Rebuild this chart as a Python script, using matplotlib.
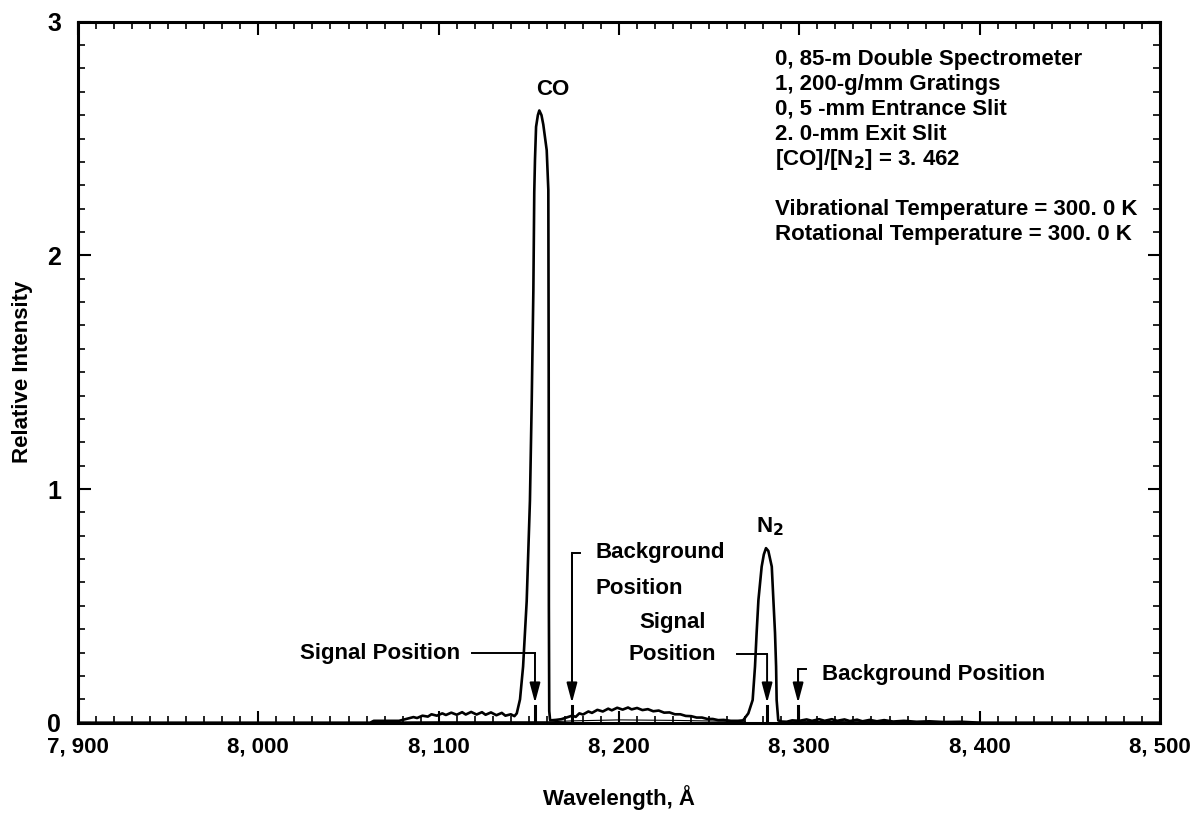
import matplotlib
matplotlib.use("Agg")
import matplotlib.pyplot as plt
from matplotlib.ticker import MultipleLocator, FuncFormatter

plt.rcParams['font.family'] = ['Liberation Sans', 'DejaVu Sans']
plt.rcParams['font.weight'] = 'bold'

# ---- data ----
wavelength = [7900, 8062, 8064, 8078, 8080, 8083, 8086, 8088, 8091, 8094, 8096, 8099,
              8102, 8104, 8107, 8110, 8113, 8115, 8118, 8121, 8124, 8126, 8129, 8132,
              8135, 8137, 8140, 8142,
              8143.3, 8145.1, 8146.8, 8148.8, 8150.6, 8151.6, 8152.5, 8153.0, 8153.4,
              8154.0, 8155.0, 8155.8, 8157.0, 8158.0, 8159.9, 8160.8, 8161.0, 8161.1,
              8161.3, 8161.8,
              8165, 8168, 8170, 8172, 8174, 8176, 8178, 8180, 8183, 8185, 8188, 8191,
              8194, 8196, 8199, 8202, 8205, 8207, 8210, 8213, 8216, 8219, 8222, 8225,
              8228, 8231, 8234, 8237, 8240, 8243, 8246, 8249, 8252, 8255, 8258, 8262,
              8266,
              8268.8, 8271.7, 8274.1, 8275.4, 8276.3, 8277.3, 8279.1, 8280.3, 8281.5,
              8282.8, 8284.7, 8285.6, 8286.5, 8287.1, 8287.4, 8288.3,
              8290, 8293, 8296, 8300, 8304, 8307, 8311, 8314, 8318, 8321, 8325, 8328,
              8332, 8335, 8339, 8343, 8347, 8352, 8358, 8365, 8372, 8380, 8390, 8400,
              8500]
intensity = [0.0, 0.0, 0.008, 0.008, 0.012, 0.018, 0.024, 0.020, 0.030, 0.026, 0.036, 0.030,
             0.040, 0.033, 0.043, 0.034, 0.045, 0.035, 0.046, 0.035, 0.045, 0.034, 0.044, 0.032,
             0.042, 0.030, 0.036, 0.028,
             0.04, 0.10, 0.24, 0.52, 0.95, 1.38, 1.85, 2.27, 2.41,
             2.55, 2.60, 2.62, 2.60, 2.56, 2.45, 2.28, 1.5, 0.5,
             0.05, 0.01,
             0.012, 0.015, 0.02, 0.025, 0.03, 0.025, 0.04, 0.035, 0.048, 0.042, 0.055, 0.048,
             0.06, 0.053, 0.064, 0.056, 0.065, 0.057, 0.063, 0.054, 0.058, 0.049, 0.052, 0.043,
             0.044, 0.036, 0.036, 0.029, 0.028, 0.022, 0.022, 0.016, 0.016, 0.011, 0.012, 0.008,
             0.008,
             0.01, 0.04, 0.097, 0.24, 0.384, 0.525, 0.668, 0.72, 0.747,
             0.735, 0.668, 0.525, 0.384, 0.24, 0.097, 0.01,
             0.005, 0.004, 0.01, 0.008, 0.014, 0.008, 0.015, 0.008, 0.015, 0.008, 0.014, 0.007,
             0.013, 0.006, 0.012, 0.006, 0.011, 0.005, 0.008, 0.004, 0.006, 0.003, 0.004, 0.0,
             0.0]

# faint lower baseline trace
base_wl = [8064, 8100, 8143, 8162, 8175, 8200, 8230, 8260, 8270]
base_int = [0.003, 0.004, 0.004, 0.004, 0.008, 0.012, 0.010, 0.006, 0.004]
base2_wl = [8290, 8330, 8370, 8400]
base2_int = [0.004, 0.006, 0.004, 0.002]

# measurement positions
signal_pos = [8153.4, 8282.1]
background_pos = [8173.9, 8299.3]

x_ticks = [7900, 8000, 8100, 8200, 8300, 8400, 8500]
y_ticks = [0, 1, 2, 3]

info_lines = ["0, 85-m Double Spectrometer",
              "1, 200-g/mm Gratings",
              "0, 5 -mm Entrance Slit",
              "2. 0-mm Exit Slit",
              "[CO]/[N$_2$] = 3. 462"]
temp_lines = ["Vibrational Temperature = 300. 0 K",
              "Rotational Temperature = 300. 0 K"]

# ---- figure ----
fig = plt.figure(figsize=(11.91, 8.18), dpi=100)
ax = fig.add_axes([0.0655, 0.1165, 0.9085, 0.857])

ax.plot(wavelength, intensity, color='black', lw=1.9, solid_joinstyle='round')
ax.plot(base_wl, base_int, color='black', lw=0.8)
ax.plot(base2_wl, base2_int, color='black', lw=0.8)

ax.set_xlim(7900, 8500)
ax.set_ylim(0, 3)
ax.set_xticks(x_ticks)
ax.set_yticks(y_ticks)
ax.xaxis.set_minor_locator(MultipleLocator(10))
ax.yaxis.set_minor_locator(MultipleLocator(0.1))
ax.xaxis.set_major_formatter(FuncFormatter(lambda v, p: f"{int(v)//1000}, {int(v)%1000:03d}"))
ax.yaxis.set_major_formatter(FuncFormatter(lambda v, p: f"{int(v)}"))
ax.tick_params(which='both', direction='in', top=True, right=True, color='black')
ax.tick_params(which='major', length=9, width=1.5, pad=10)
ax.tick_params(axis='x', which='major', labelsize=16)
ax.tick_params(axis='y', which='major', labelsize=18, pad=12)
ax.tick_params(which='minor', length=5, width=1.2)
for lab in ax.get_xticklabels() + ax.get_yticklabels():
    lab.set_fontweight('bold')
for s in ax.spines.values():
    s.set_linewidth(2.2)

fs = 16
ax.set_xlabel("Wavelength, Å", fontsize=fs, fontweight='bold', labelpad=20)
ax.set_ylabel("Relative Intensity", fontsize=fs, fontweight='bold', labelpad=10)

# peak labels
ax.text(8163.5, 2.71, "CO", fontsize=fs, ha='center', va='center')
ax.text(8283.7, 0.84, "N$_2$", fontsize=fs, ha='center', va='center')

# info block
y0 = 2.84
for i, t in enumerate(info_lines):
    ax.text(8286.5, y0 - i * 0.107, t, fontsize=fs, ha='left', va='center')
for i, t in enumerate(temp_lines):
    ax.text(8286.5, 2.195 - i * 0.107, t, fontsize=fs, ha='left', va='center')

arrow_kw = dict(arrowstyle='-|>,head_length=1.2,head_width=0.32', color='black',
                lw=1.4, mutation_scale=10, shrinkA=0, shrinkB=0)
tip = 0.085

def signal_arrow(x, y_line, x_start):
    ax.plot([x_start, x], [y_line, y_line], color='black', lw=1.4)
    ax.annotate("", xy=(x, tip), xytext=(x, y_line), arrowprops=arrow_kw)
    ax.plot([x, x], [0, tip - 0.012], color='black', lw=2.2)

def background_arrow(x, y_top):
    ax.plot([x + 4.4, x, x], [y_top, y_top, tip + 0.07], color='black', lw=1.4)
    ax.annotate("", xy=(x, tip), xytext=(x, y_top), arrowprops=arrow_kw)
    ax.plot([x, x], [0, tip - 0.012], color='black', lw=2.2)

signal_arrow(signal_pos[0], 0.298, 8118.5)
ax.text(8111.9, 0.298, "Signal Position", fontsize=fs, ha='right', va='center')
background_arrow(background_pos[0], 0.727)
ax.text(8186.7, 0.727, "Background", fontsize=fs, ha='left', va='center')
ax.text(8186.7, 0.575, "Position", fontsize=fs, ha='left', va='center')

signal_arrow(signal_pos[1], 0.294, 8265.5)
ax.text(8229.5, 0.43, "Signal", fontsize=fs, ha='center', va='center')
ax.text(8229.5, 0.294, "Position", fontsize=fs, ha='center', va='center')
background_arrow(background_pos[1], 0.23)
ax.text(8312.6, 0.205, "Background Position", fontsize=fs, ha='left', va='center')

fig.savefig("out.png", dpi=100)
